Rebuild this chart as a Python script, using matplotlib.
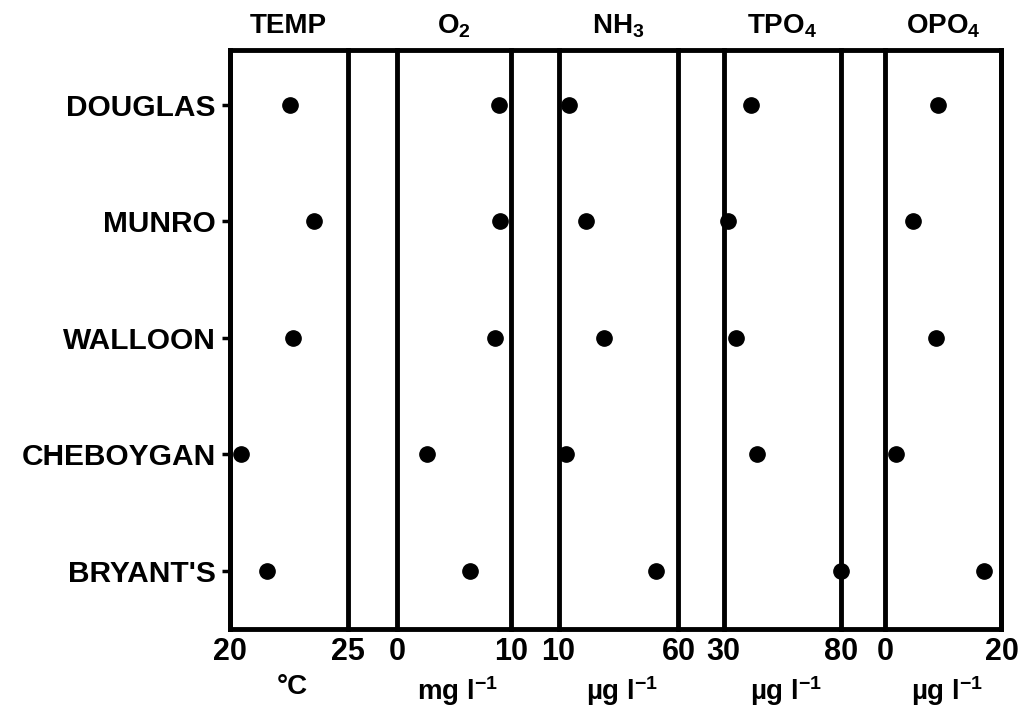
import matplotlib
matplotlib.use("Agg")
import matplotlib.pyplot as plt

plt.rcParams['font.family'] = ['Liberation Sans', 'DejaVu Sans']
plt.rcParams['font.weight'] = 'bold'
plt.rcParams['mathtext.default'] = 'regular'

lakes = ["DOUGLAS", "MUNRO", "WALLOON", "CHEBOYGAN", "BRYANT'S"]

temp = [22.55, 23.57, 22.7, 20.5, 21.6]
o2 = [8.9, 9.0, 8.6, 2.6, 6.4]
nh3 = [14.2, 21.5, 29.0, 13.2, 50.6]
tpo4 = [41.7, 32.1, 35.4, 44.4, 79.8]
opo4 = [9.1, 4.8, 8.7, 1.9, 17.0]

titles = ["TEMP", "O$_2$", "NH$_3$", "TPO$_4$", "OPO$_4$"]
units = ["°C", "mg l$^{-1}$", "µg l$^{-1}$", "µg l$^{-1}$", "µg l$^{-1}$"]
limits = [(20, 25), (0, 10), (10, 60), (30, 80), (0, 20)]
series = [temp, o2, nh3, tpo4, opo4]

# panel left/right edges in figure fractions
edges = [(0.2237, 0.3387), (0.3869, 0.4981), (0.5444, 0.6613),
         (0.7052, 0.8197), (0.8626, 0.9761)]
bottom, height = 0.109, 0.820
lw = 3.5

fig = plt.figure(figsize=(10.26, 7.06), dpi=100)

# outer frame running across all panels and the gaps between them
frame = fig.add_axes([edges[0][0], bottom, edges[-1][1] - edges[0][0], height])
frame.set_facecolor('none')
frame.set_xticks([])
frame.set_yticks([])
for s in frame.spines.values():
    s.set_linewidth(lw)

rows = list(range(len(lakes)))

for i, (vals, (x0, x1)) in enumerate(zip(series, edges)):
    ax = fig.add_axes([x0, bottom, x1 - x0, height])
    ax.set_facecolor('none')
    ax.plot(vals, rows, 'o', color='black', markersize=11, clip_on=False)
    ax.set_xlim(*limits[i])
    ax.set_ylim(4.5, -0.47)
    ax.spines['top'].set_visible(False)
    ax.spines['bottom'].set_visible(False)
    ax.spines['left'].set_linewidth(lw)
    ax.spines['right'].set_linewidth(lw)

    ax.set_xticks(limits[i])
    ax.set_xticklabels([str(v) for v in limits[i]], fontsize=22, fontweight='bold')
    ax.tick_params(axis='x', length=0, pad=6)
    ax.set_xlabel(units[i], fontsize=20, fontweight='bold', labelpad=0)
    ax.xaxis.set_label_coords(0.53, -0.078)
    ax.set_title(titles[i], fontsize=20, fontweight='bold', pad=12)

    if i == 0:
        ax.set_yticks(rows)
        ax.set_yticklabels(lakes, fontsize=21.5, fontweight='bold')
        ax.tick_params(axis='y', direction='out', length=6, width=2.5, pad=4)
    else:
        ax.set_yticks([])

fig.savefig("out.png", dpi=100)
